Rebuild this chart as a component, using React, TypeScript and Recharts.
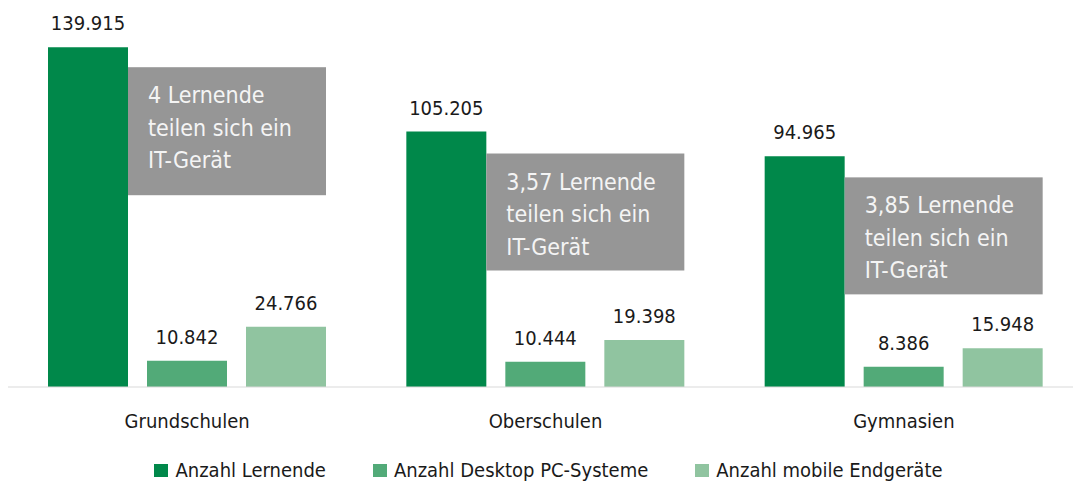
import React from 'react';
import { BarChart, Bar, XAxis, YAxis, LabelList } from 'recharts';

const categories = ['Grundschulen', 'Oberschulen', 'Gymnasien'];
const lernende = [139915, 105205, 94965];
const desktop = [10842, 10444, 8386];
const mobile = [24766, 19398, 15948];
const ratios = ['4', '3,57', '3,85'];
const seriesNames = ['Anzahl Lernende', 'Anzahl Desktop PC-Systeme', 'Anzahl mobile Endgeräte'];
const yTicks = [0, 140000];

const COLORS = ['#00884a', '#52aa78', '#90c4a0'];
const FONT = "'DejaVu Sans Condensed', 'DejaVu Sans', sans-serif";
const BAR_GAP = 19;
const BOX_OFFSETS = [20, 22, 21];
const BOX_HEIGHTS = [128, 117, 117];

const data = categories.map((c, i) => ({
  name: c,
  lernende: lernende[i],
  desktop: desktop[i],
  mobile: mobile[i],
}));

const fmt = (v: number) => String(v).replace(/\B(?=(\d{3})+(?!\d))/g, '.');

const ValueLabel = (props: any) => {
  const { x, y, width, value } = props;
  return (
    <text x={x + width / 2} y={y - 17} textAnchor="middle" fontFamily={FONT} fontSize={20} fill="#1a1a1a">
      {fmt(value)}
    </text>
  );
};

const BoxLabel = (props: any) => {
  const { x, y, width, index } = props;
  const bx = x + width;
  const by = y + BOX_OFFSETS[index];
  const bw = 2 * (width + BAR_GAP);
  const lines = [`${ratios[index]} Lernende`, 'teilen sich ein', 'IT-Gerät'];
  return (
    <g>
      <rect x={bx} y={by} width={bw} height={BOX_HEIGHTS[index]} fill="#969696" />
      {lines.map((l, k) => (
        <text key={k} x={bx + 20} y={by + 36 + k * 32.5} fontFamily={FONT} fontSize={23} fill="#f4f4f4">
          {l}
        </text>
      ))}
    </g>
  );
};

const CategoryTick = (props: any) => {
  const { x, y, payload } = props;
  return (
    <text x={x} y={y + 41} textAnchor="middle" fontFamily={FONT} fontSize={20} fill="#1a1a1a">
      {payload.value}
    </text>
  );
};

const LegendContent = () => (
  <div style={{ display: 'flex', justifyContent: 'center', paddingLeft: 6, fontFamily: FONT, fontSize: 20, color: '#1a1a1a' }}>
    {seriesNames.map((n, i) => (
      <div key={n} style={{ display: 'flex', alignItems: 'center', marginLeft: i === 0 ? 0 : 47 }}>
        <span style={{ display: 'inline-block', width: 14, height: 13, background: COLORS[i], marginRight: 7 }} />
        <span>{n}</span>
      </div>
    ))}
  </div>
);

export default function App() {
  return (
    <div style={{ position: 'absolute', left: 0, top: 0, width: 1073, height: 485, overflow: 'hidden', background: '#fff' }}>
      <div style={{ position: 'absolute', left: 8, top: 0 }}>
        <BarChart
          width={1075}
          height={485}
          data={data}
          margin={{ top: 47, right: 0, bottom: 68, left: 0 }}
          barCategoryGap={40}
          barGap={BAR_GAP}
        >
          <XAxis
            dataKey="name"
            height={30}
            axisLine={{ stroke: '#d9d9d9', strokeWidth: 1 }}
            tickLine={false}
            tickSize={0}
            tickMargin={0}
            tick={<CategoryTick />}
            interval={0}
          />
          <YAxis hide domain={[yTicks[0], yTicks[1]]} ticks={yTicks} />
          <Bar dataKey="lernende" name={seriesNames[0]} fill={COLORS[0]} isAnimationActive={false}>
            <LabelList dataKey="lernende" content={<ValueLabel />} />
            <LabelList dataKey="lernende" content={<BoxLabel />} />
          </Bar>
          <Bar dataKey="desktop" name={seriesNames[1]} fill={COLORS[1]} isAnimationActive={false}>
            <LabelList dataKey="desktop" content={<ValueLabel />} />
          </Bar>
          <Bar dataKey="mobile" name={seriesNames[2]} fill={COLORS[2]} isAnimationActive={false}>
            <LabelList dataKey="mobile" content={<ValueLabel />} />
          </Bar>
        </BarChart>
        <div style={{ position: 'absolute', left: 0, top: 458, width: 1075 }}>
          <LegendContent />
        </div>
      </div>
    </div>
  );
}
